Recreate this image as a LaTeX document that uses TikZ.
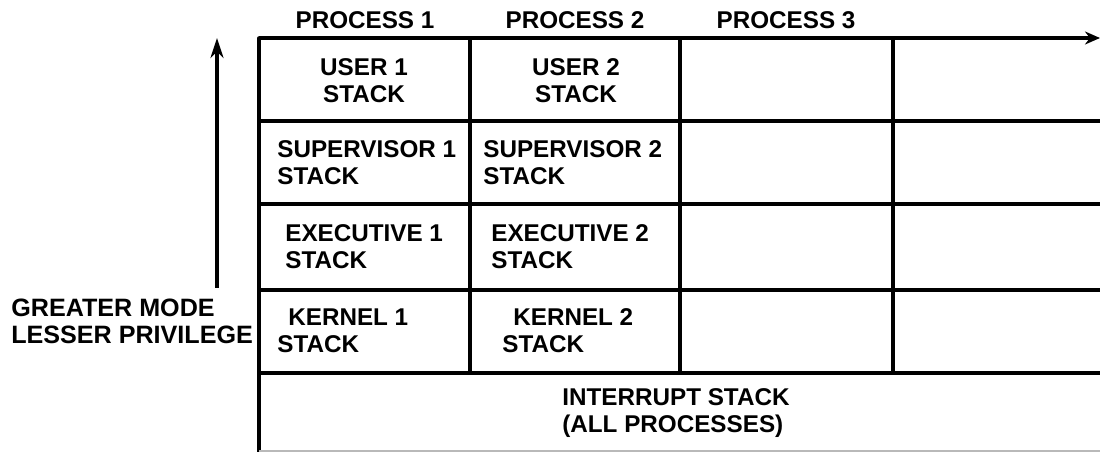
\documentclass[tikz,border=0pt]{standalone}
\usepackage{fontspec}
\setmainfont{Liberation Sans}
\usetikzlibrary{positioning,arrows.meta}

\begin{document}
\begin{tikzpicture}[
  x=0.02cm, y=-0.02cm,
  every node/.style={font=\bfseries\fontsize{13.8}{15.5}\selectfont, inner sep=0pt},
  %% stack cell text  \node[cell] at (x,y) {...}
  cell/.style={anchor=west, align=left},
  ctr/.style={align=center},
  %% table rules
  rule/.style={line width=2pt, line cap=round},
  %% arrows
  arr/.style={-{Stealth[length=#1,width=0.26cm]}, line width=1.8pt},
  arr/.default=0.4cm,
]
\useasboundingbox (0,0) rectangle (1100,452);

%%── Table rules ─────────────────────────────────────────────────────────────
\draw[rule] (259,38) -- (259,452);
\foreach \cx in {470,680,893}
  \draw[rule] (\cx,38) -- (\cx,373);
\foreach \ry in {121,204,290,373}
  \draw[rule] (259,\ry) -- (1100,\ry);
\draw[gray!55, line width=0.8pt] (259,451) -- (1100,451);

%%── Process axis (top edge) ─────────────────────────────────────────────────
\coordinate (pa) at (259,38);
\coordinate (pb) at (1100,38);
\draw[arr=0.3cm, line width=2.3pt] (pa) -- (pb);

\node (p1) at (365,20) {PROCESS 1};
\node (p2) at (575,20) {PROCESS 2};
\node (p3) at (786,20) {PROCESS 3};

%%── Mode / privilege axis ───────────────────────────────────────────────────
\coordinate (ma) at (217,288);
\coordinate (mb) at (217,38);
\draw[arr] (ma) -- (mb);

\node[cell, font=\bfseries\fontsize{14.3}{15.5}\selectfont] (mode) at (11,321)
  {GREATER MODE\\LESSER PRIVILEGE};

%%── Process 1 stacks ────────────────────────────────────────────────────────
\node[ctr]  (u1) at (364,81)  {USER 1\\STACK};
\node[cell] (s1) at (277,163) {SUPERVISOR 1\\STACK};
\node[cell] (e1) at (285,247) {EXECUTIVE 1\\STACK};
\node[cell] (k1) at (277,331) {\hspace*{0.22cm}KERNEL 1\\STACK};

%%── Process 2 stacks ────────────────────────────────────────────────────────
\node[ctr]  (u2) at (576,81)  {USER 2\\STACK};
\node[cell] (s2) at (483,163) {SUPERVISOR 2\\STACK};
\node[cell] (e2) at (491,247) {EXECUTIVE 2\\STACK};
\node[cell] (k2) at (502,331) {\hspace*{0.22cm}KERNEL 2\\STACK};

%%── Shared interrupt stack ──────────────────────────────────────────────────
\node[cell] (is) at (562,413) {INTERRUPT STACK\\(ALL PROCESSES)};

\end{tikzpicture}
\end{document}
